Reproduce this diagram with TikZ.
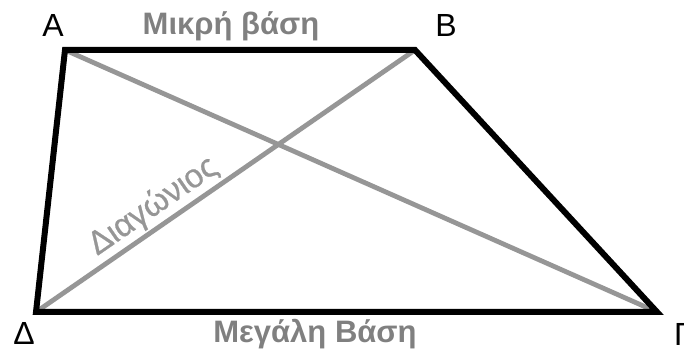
\documentclass[tikz,border=0pt]{standalone}
\usepackage{fontspec}
\setmainfont{Liberation Sans}
\newfontfamily\diagfont[FakeBold=0.7]{Liberation Sans}
\usetikzlibrary{positioning}
\definecolor{diaggray}{RGB}{150,150,150}
\definecolor{labelgray}{RGB}{128,128,128}

\begin{document}
\begin{tikzpicture}[
    x=1pt, y=1pt,
    side/.style={line width=6pt, line join=miter},
    diag/.style={line width=4.8pt, diaggray},
    vertex/.style={font=\fontsize{32}{32}\selectfont, inner sep=0pt, anchor=base},
    base/.style={font=\bfseries\fontsize{31}{31}\selectfont, text=labelgray, inner sep=0pt, anchor=base},
    slant/.style={font=\diagfont\fontsize{33}{33}\selectfont, text=diaggray, inner sep=0pt}
]
    \useasboundingbox (0,0) rectangle (684,352);

    % Vertices
    \coordinate (A) at (65,302);
    \coordinate (B) at (415,302);
    \coordinate (G) at (657,40);
    \coordinate (D) at (36,40);

    % Diagonals
    \draw[diag] (A) -- (G);
    \draw[diag] (D) -- node[slant, sloped, pos=0.34, above=2pt] (diaglabel) {Διαγώνιος} (B);

    % Sides
    \draw[side] (A) -- (B) -- (G) -- (D) -- cycle;

    % Vertex labels
    \node[vertex] (la) at (53,315) {Α};
    \node[vertex] (lb) at (446,315) {Β};
    \node[vertex] (ld) at (24,7) {Δ};
    \node[vertex] (lg) at (683,6) {Γ};

    % Base labels
    \node[base] (small) at (231,317) {Μικρή βάση};
    \node[base] (large) at (315,9) {Μεγάλη Βάση};
\end{tikzpicture}
\end{document}
